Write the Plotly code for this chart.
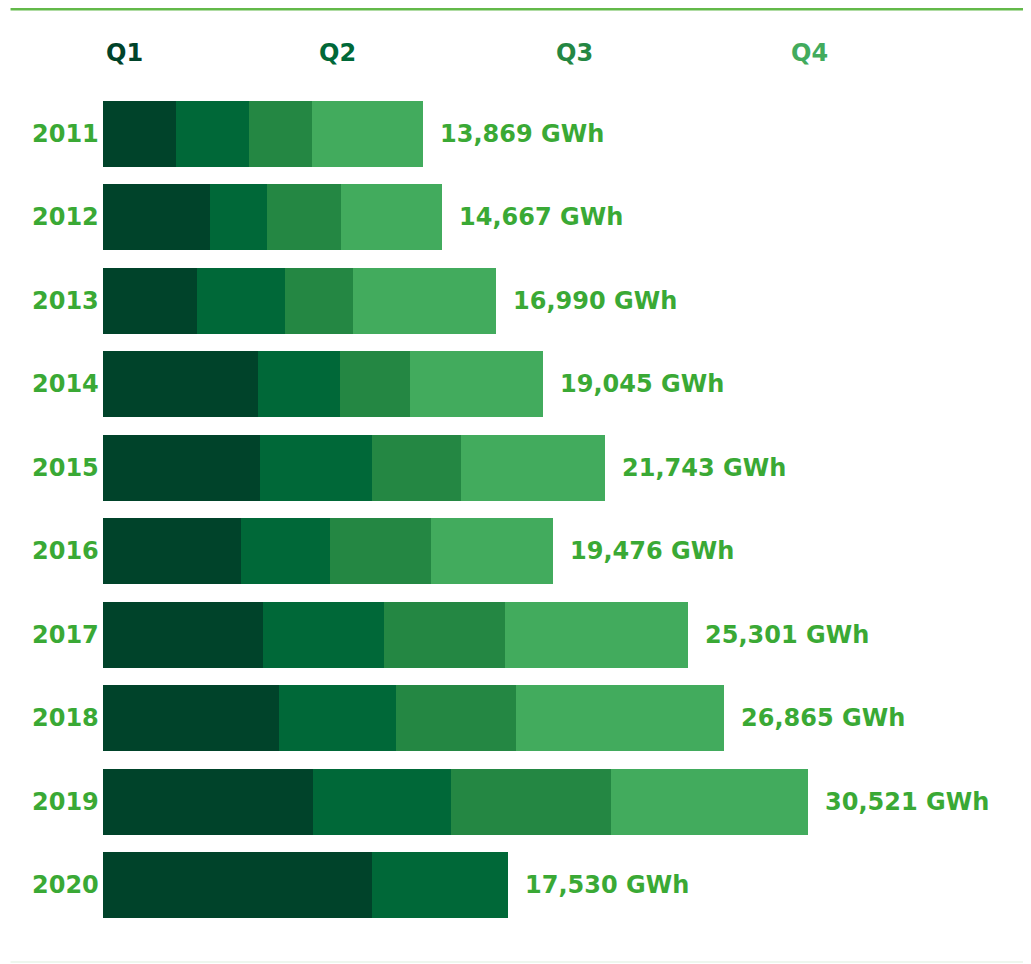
import plotly.graph_objects as go

years = ["2011", "2012", "2013", "2014", "2015", "2016", "2017", "2018", "2019", "2020"]
q1 = [3160, 4632, 4069, 6710, 6797, 5974, 6927, 7619, 9091, 11646]
q2 = [3160, 2468, 3810, 3550, 4849, 3853, 5238, 5065, 5974, 5884]
q3 = [2727, 3204, 2944, 3030, 3853, 4372, 5238, 5195, 6927, 0]
q4 = [4822, 4363, 6167, 5755, 6244, 5277, 7898, 8986, 8529, 0]
totals = [13869, 14667, 16990, 19045, 21743, 19476, 25301, 26865, 30521, 17530]
total_labels = ["13,869 GWh", "14,667 GWh", "16,990 GWh", "19,045 GWh", "21,743 GWh",
                "19,476 GWh", "25,301 GWh", "26,865 GWh", "30,521 GWh", "17,530 GWh"]
quarters = ["Q1", "Q2", "Q3", "Q4"]
colors = ["#00432A", "#006838", "#248743", "#42AB5D"]
label_green = "#3AA935"

FONT = "DejaVu Sans"
OFF = 8  # page body margin
W, H = 1031, 964
ML, MR, MT, MB = 94.5, 0, 84, 45
PW, PH = W - ML - MR, H - MT - MB


def px_x(page_px):
    return (page_px - OFF - ML) / PW


def px_y(page_py):
    return 1 - (page_py - OFF - MT) / PH


fig = go.Figure()
for name, vals, col in zip(quarters, [q1, q2, q3, q4], colors):
    fig.add_trace(go.Bar(
        y=years, x=vals, name=name, orientation="h",
        marker=dict(color=col, line=dict(width=0)),
        hoverinfo="x+name",
    ))

# total labels (category index positions on the y axis)
for i, (tot, lab) in enumerate(zip(totals, total_labels)):
    fig.add_annotation(
        x=tot, y=i, xref="x", yref="y", text=f"<b>{lab}</b>",
        showarrow=False, xanchor="left", yanchor="middle", xshift=15,
        font=dict(family=FONT, size=24, color=label_green),
    )

# year labels
for i, yr in enumerate(years):
    fig.add_annotation(
        x=0, y=i, xref="x", yref="y", text=f"<b>{yr}</b>",
        showarrow=False, xanchor="right", yanchor="middle", xshift=-2,
        font=dict(family=FONT, size=24, color=label_green),
    )

# quarter header labels
q_pos = [124, 337, 574, 809]
for name, col, px in zip(quarters, colors, q_pos):
    fig.add_annotation(
        x=px_x(px), y=px_y(53), xref="paper", yref="paper",
        text=f"<b>{name}</b>", showarrow=False, xanchor="center", yanchor="middle",
        font=dict(family=FONT, size=24, color=col),
    )

fig.update_layout(
    width=W, height=H,
    margin=dict(l=ML, r=MR, t=MT, b=MB, autoexpand=False),
    paper_bgcolor="white", plot_bgcolor="white",
    barmode="stack", bargap=0.21, showlegend=False,
    xaxis=dict(range=[0, PW * 30521 / 705.5], visible=False, fixedrange=True),
    yaxis=dict(type="category", categoryorder="array", categoryarray=years,
               range=[9.5, -0.5], showgrid=False, zeroline=False, showline=False,
               showticklabels=False, ticks="", fixedrange=True),
    shapes=[
        dict(type="line", xref="paper", yref="paper", x0=px_x(10), x1=px_x(1040), y0=px_y(9), y1=px_y(9),
             line=dict(color="#63B94A", width=3), layer="above"),
        dict(type="line", xref="paper", yref="paper", x0=px_x(10), x1=px_x(1040), y0=px_y(962), y1=px_y(962),
             line=dict(color="#EEF7EE", width=2), layer="above"),
    ],
)

fig.write_html("out.html")
